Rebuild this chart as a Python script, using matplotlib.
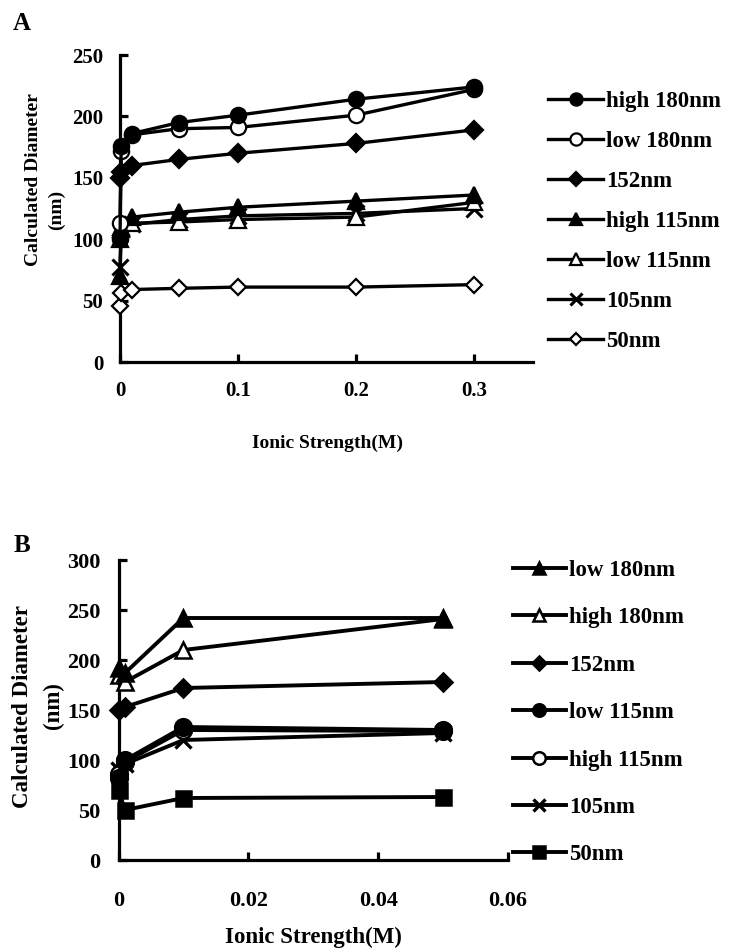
import matplotlib
matplotlib.use("Agg")
import matplotlib.pyplot as plt
from matplotlib.ticker import FixedLocator, FixedFormatter

plt.rcParams['font.family'] = ['Liberation Serif', 'DejaVu Serif']
plt.rcParams['font.weight'] = 'bold'

# ---------------- data ----------------
xA = [0, 0.001, 0.01, 0.05, 0.1, 0.2, 0.3]
A_high180 = [100, 176, 186, 195, 201, 214, 224]
A_low180 = [113, 172, 185, 190, 191, 201, 222]
A_152 = [150, 155, 160, 165, 170, 178, 189]
A_high115 = [70, 110, 118, 122, 126, 131, 136]
A_low115 = [100, 108, 113, 114, 116, 118, 130]
A_105 = [77, 108, 112, 116, 119, 121, 125]
A_50 = [46, 56, 59, 60, 61, 61, 63]
A_labels = ['high 180nm', 'low 180nm', '152nm', 'high 115nm', 'low 115nm', '105nm', '50nm']

xB = [0, 0.001, 0.01, 0.05]
B_low180 = [192, 187, 242, 242]
B_high180 = [185, 178, 210, 241]
B_152 = [150, 153, 172, 178]
B_low115 = [82, 100, 133, 130]
B_high115 = [86, 98, 130, 129]
B_105 = [90, 96, 120, 127]
B_50 = [70, 50, 62, 63]
B_labels = ['low 180nm', 'high 180nm', '152nm', 'low 115nm', 'high 115nm', '105nm', '50nm']

A_xticks = [0, 0.1, 0.2, 0.3]
A_xticklabels = ['0', '0.1', '0.2', '0.3']
A_yticks = [0, 50, 100, 150, 200, 250]
B_xticks = [0, 0.02, 0.04, 0.06]
B_xticklabels = ['0', '0.02', '0.04', '0.06']
B_yticks = [0, 50, 100, 150, 200, 250, 300]

# ---------------- figure ----------------
W, H = 732, 951
fig = plt.figure(figsize=(W / 100, H / 100), dpi=100)


def fx(px):
    return px / W


def fy(py):
    return 1 - py / H


def style_axes(ax, fs, xpad, ypad):
    for s in ['top', 'right']:
        ax.spines[s].set_visible(False)
    for s in ['left', 'bottom']:
        ax.spines[s].set_linewidth(2.3)
    ax.tick_params(direction='in', length=6, width=2.3, labelsize=fs)
    ax.tick_params(axis='x', pad=xpad)
    ax.tick_params(axis='y', pad=ypad)
    for lab in ax.get_xticklabels() + ax.get_yticklabels():
        lab.set_fontweight('bold')


# Panel A
axA = fig.add_axes([fx(120), fy(362), fx(533) - fx(120), (307) / H])
ms = 11
lw = 2.4
mew = 1.6
seriesA = [
    (A_high180, dict(marker='o', mfc='black')),
    (A_low180, dict(marker='o', mfc='white')),
    (A_152, dict(marker='D', mfc='black', ms=ms * 0.8)),
    (A_high115, dict(marker='^', mfc='black')),
    (A_low115, dict(marker='^', mfc='white')),
    (A_105, dict(marker='x', mfc='black')),
    (A_50, dict(marker='D', mfc='white', ms=ms * 0.75)),
]
hA = []
for i, ((ys, kw), lab) in enumerate(zip(seriesA, A_labels)):
    k = dict(color='black', lw=lw, ms=ms, mec='black', mew=mew, clip_on=False,
             zorder=10 - i)
    k.update(kw)
    if k['marker'] == 'x':
        k['mew'] = 2.2
    line, = axA.plot(xA, ys, label=lab, **k)
    hA.append(line)
axA.set_xlim(0, 0.35)
axA.set_ylim(0, 250)
axA.xaxis.set_major_locator(FixedLocator(A_xticks))
axA.xaxis.set_major_formatter(FixedFormatter(A_xticklabels))
axA.yaxis.set_major_locator(FixedLocator(A_yticks))
style_axes(axA, 15, 14, 12)

legA = fig.legend(handles=hA, loc='upper left', bbox_to_anchor=(fx(548), fy(91)),
                  frameon=False, borderpad=0, borderaxespad=0, handlelength=2.4,
                  handletextpad=0.15, labelspacing=0.83, markerscale=0.8,
                  prop=dict(family='Liberation Serif', weight='bold', size=16.5))

# Panel B
axB = fig.add_axes([fx(118.5), fy(860), fx(508) - fx(118.5), 300 / H])
msB = 12
lwB = 2.8
seriesB = [
    (B_low180, dict(marker='^', mfc='black')),
    (B_high180, dict(marker='^', mfc='white')),
    (B_152, dict(marker='D', mfc='black', ms=msB * 0.8)),
    (B_low115, dict(marker='o', mfc='black')),
    (B_high115, dict(marker='o', mfc='white')),
    (B_105, dict(marker='x', mfc='black')),
    (B_50, dict(marker='s', mfc='black', ms=msB * 0.9)),
]
hB = []
for i, ((ys, kw), lab) in enumerate(zip(seriesB, B_labels)):
    k = dict(color='black', lw=lwB, ms=msB, mec='black', mew=1.8, clip_on=False,
             zorder=10 - i)
    k.update(kw)
    if k['marker'] == 'x':
        k['mew'] = 2.4
    line, = axB.plot(xB, ys, label=lab, **k)
    hB.append(line)
axB.set_xlim(0, 0.06)
axB.set_ylim(0, 300)
axB.xaxis.set_major_locator(FixedLocator(B_xticks))
axB.xaxis.set_major_formatter(FixedFormatter(B_xticklabels))
axB.yaxis.set_major_locator(FixedLocator(B_yticks))
style_axes(axB, 16, 22, 13)

legB = fig.legend(handles=hB, loc='upper left', bbox_to_anchor=(fx(513), fy(560)),
                  frameon=False, borderpad=0, borderaxespad=0, handlelength=2.3,
                  handletextpad=0.15, labelspacing=1.15, markerscale=0.75,
                  prop=dict(family='Liberation Serif', weight='bold', size=16.5))

# Texts
bold = dict(fontweight='bold', family='Liberation Serif')
fig.text(fx(22), fy(24), 'A', fontsize=18, ha='center', va='center', **bold)
fig.text(fx(22), fy(546), 'B', fontsize=18, ha='center', va='center', **bold)

fig.text(fx(34), fy(180), 'Calculated Diameter', fontsize=14, rotation=90,
         ha='center', va='center', **bold)
fig.text(fx(56), fy(210), '(nm)', fontsize=14, rotation=90,
         ha='center', va='center', **bold)
fig.text(fx(327), fy(443), 'Ionic Strength(M)', fontsize=14,
         ha='center', va='center', **bold)

fig.text(fx(23), fy(707), 'Calculated Diameter', fontsize=16.5, rotation=90,
         ha='center', va='center', **bold)
fig.text(fx(53), fy(706), '(nm)', fontsize=16.5, rotation=90,
         ha='center', va='center', **bold)
fig.text(fx(313), fy(937), 'Ionic Strength(M)', fontsize=16.5,
         ha='center', va='center', **bold)

fig.savefig('out.png', dpi=100, facecolor='white')
